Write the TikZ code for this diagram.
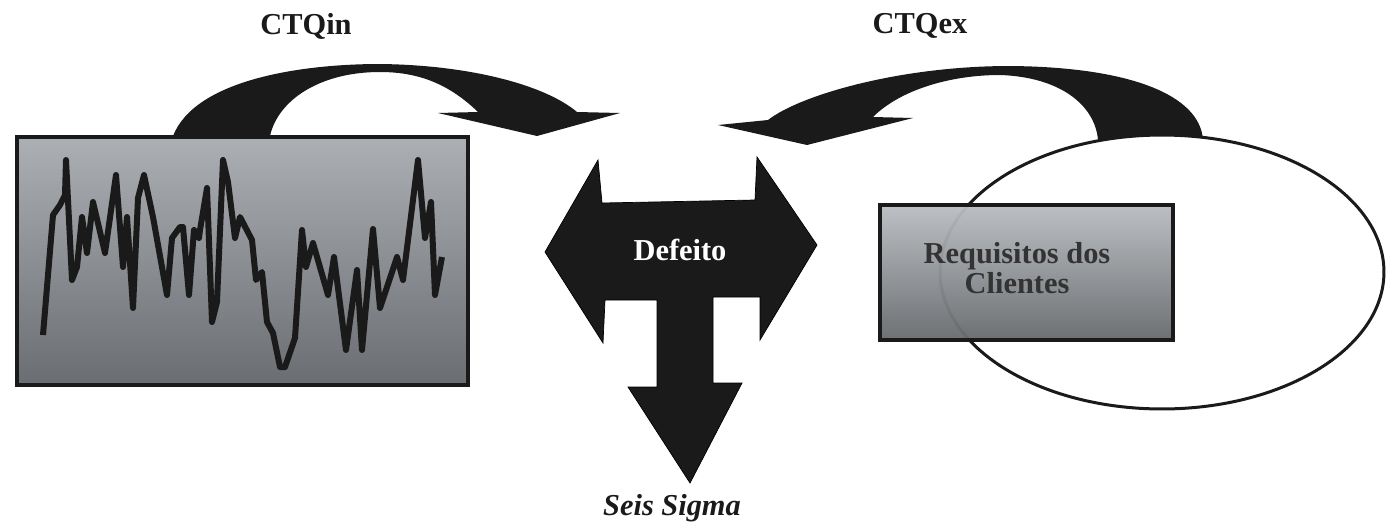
\documentclass[tikz,border=0pt]{standalone}
\usepackage{fontspec}
\setmainfont{Liberation Serif}
\usepackage{tikz}
\usetikzlibrary{shapes,backgrounds,positioning}
\definecolor{sigtop}{RGB}{172,175,180}
\definecolor{sigbot}{RGB}{106,109,113}
\definecolor{reqtop}{RGB}{186,189,193}
\definecolor{reqbot}{RGB}{104,107,110}
\definecolor{inkblack}{RGB}{26,26,26}
\tikzstyle{ctqtext}=[font=\fontsize{17.3}{17.5}\selectfont\bfseries, text=inkblack, align=center]
\tikzstyle{sigbox}=[rectangle, draw=inkblack, line width=0.08cm, top color=sigtop, bottom color=sigbot, minimum width=9.02cm, minimum height=4.96cm]
\tikzstyle{reqbox}=[rectangle, draw=inkblack, line width=0.08cm, top color=reqtop, bottom color=reqbot, fill opacity=0.96, minimum width=5.86cm, minimum height=2.7cm]
\tikzstyle{oval}=[ellipse, draw=inkblack, line width=0.06cm, fill=white, minimum width=8.88cm, minimum height=5.48cm]
\tikzstyle{bigarrow}=[fill=inkblack]
\tikzstyle{signal}=[draw=inkblack, line width=0.12cm, line join=round]

\begin{document}
\begin{tikzpicture}[x=0.02cm,y=-0.02cm]
\useasboundingbox (0,0) rectangle (1388,521);

%Labels
\node[ctqtext] (ctqin) at (306,26){CTQin};
\node[ctqtext] (ctqex) at (920,26){CTQex};

%Left side
\node[sigbox] (sig) at (242.5,261){};
\draw[signal] plot coordinates {(43,335) (53,215) (60,205) (65,195) (66,160) (72,280) (77,267)
 (82,217) (87,253) (93,202) (105,253) (116,175) (123,267) (127,217) (133,308) (138,198)
 (144,175) (153,217) (167,295) (172,238) (180,227) (183,227) (189,295) (194,230) (199,238)
 (200,230) (207,188) (212,322) (217,302) (223,160) (228,182) (235,238) (240,217) (252,240)
 (256,280) (262,272) (267,322) (273,333) (280,367) (285,367) (295,338) (302,230) (306,267)
 (313,243) (328,295) (334,257) (346,350) (357,270) (362,350) (373,229) (380,308) (397,257)
 (403,280) (418,160) (425,238) (431,202) (435,295) (442,257)};

%Right side
\node[oval] (clientes) at (1162,272){};
\node[reqbox] (req) at (1026.5,272.5){};
\node[ctqtext, text=black!80] (reqtext) at (1017,268){Requisitos dos\\Clientes};

%Centre
\draw[bigarrow] (545,252) -- (598,160) -- (602,203) -- (755,200) -- (757,157) -- (817,245)
 -- (760,340) -- (760,297) -- (713,297) -- (713,383) -- (742,383) -- (690,483) -- (628,387)
 -- (657,387) -- (657,300) -- (605,300) -- (603,343) -- cycle;
\node[ctqtext, text=white] (defeito) at (680,250){Defeito};
\node[ctqtext, font=\fontsize{17.3}{17.5}\selectfont\bfseries\itshape] (sigma) at (672,508){Seis Sigma};

%background
\begin{scope}[on background layer]
\fill[bigarrow] (173,136) .. controls (195,80) and (300,64) .. (380,64)
 .. controls (470,65) and (545,85) .. (577,112) -- (620,113) -- (537,136) -- (438,113)
 -- (478,112) .. controls (450,85) and (420,72) .. (380,72)
 .. controls (320,72) and (278,100) .. (270,136) -- cycle;
\end{scope}

\begin{scope}[on background layer]
\fill[bigarrow] (1203,140) .. controls (1200,95) and (1130,67) .. (1010,66)
 .. controls (900,66) and (800,95) .. (768,120) -- (718,125) -- (807,145) -- (913,118)
 -- (873,117) .. controls (900,90) and (950,75) .. (1000,75)
 .. controls (1060,77) and (1095,105) .. (1098,140) -- cycle;
\end{scope}

\end{tikzpicture}
\end{document}
